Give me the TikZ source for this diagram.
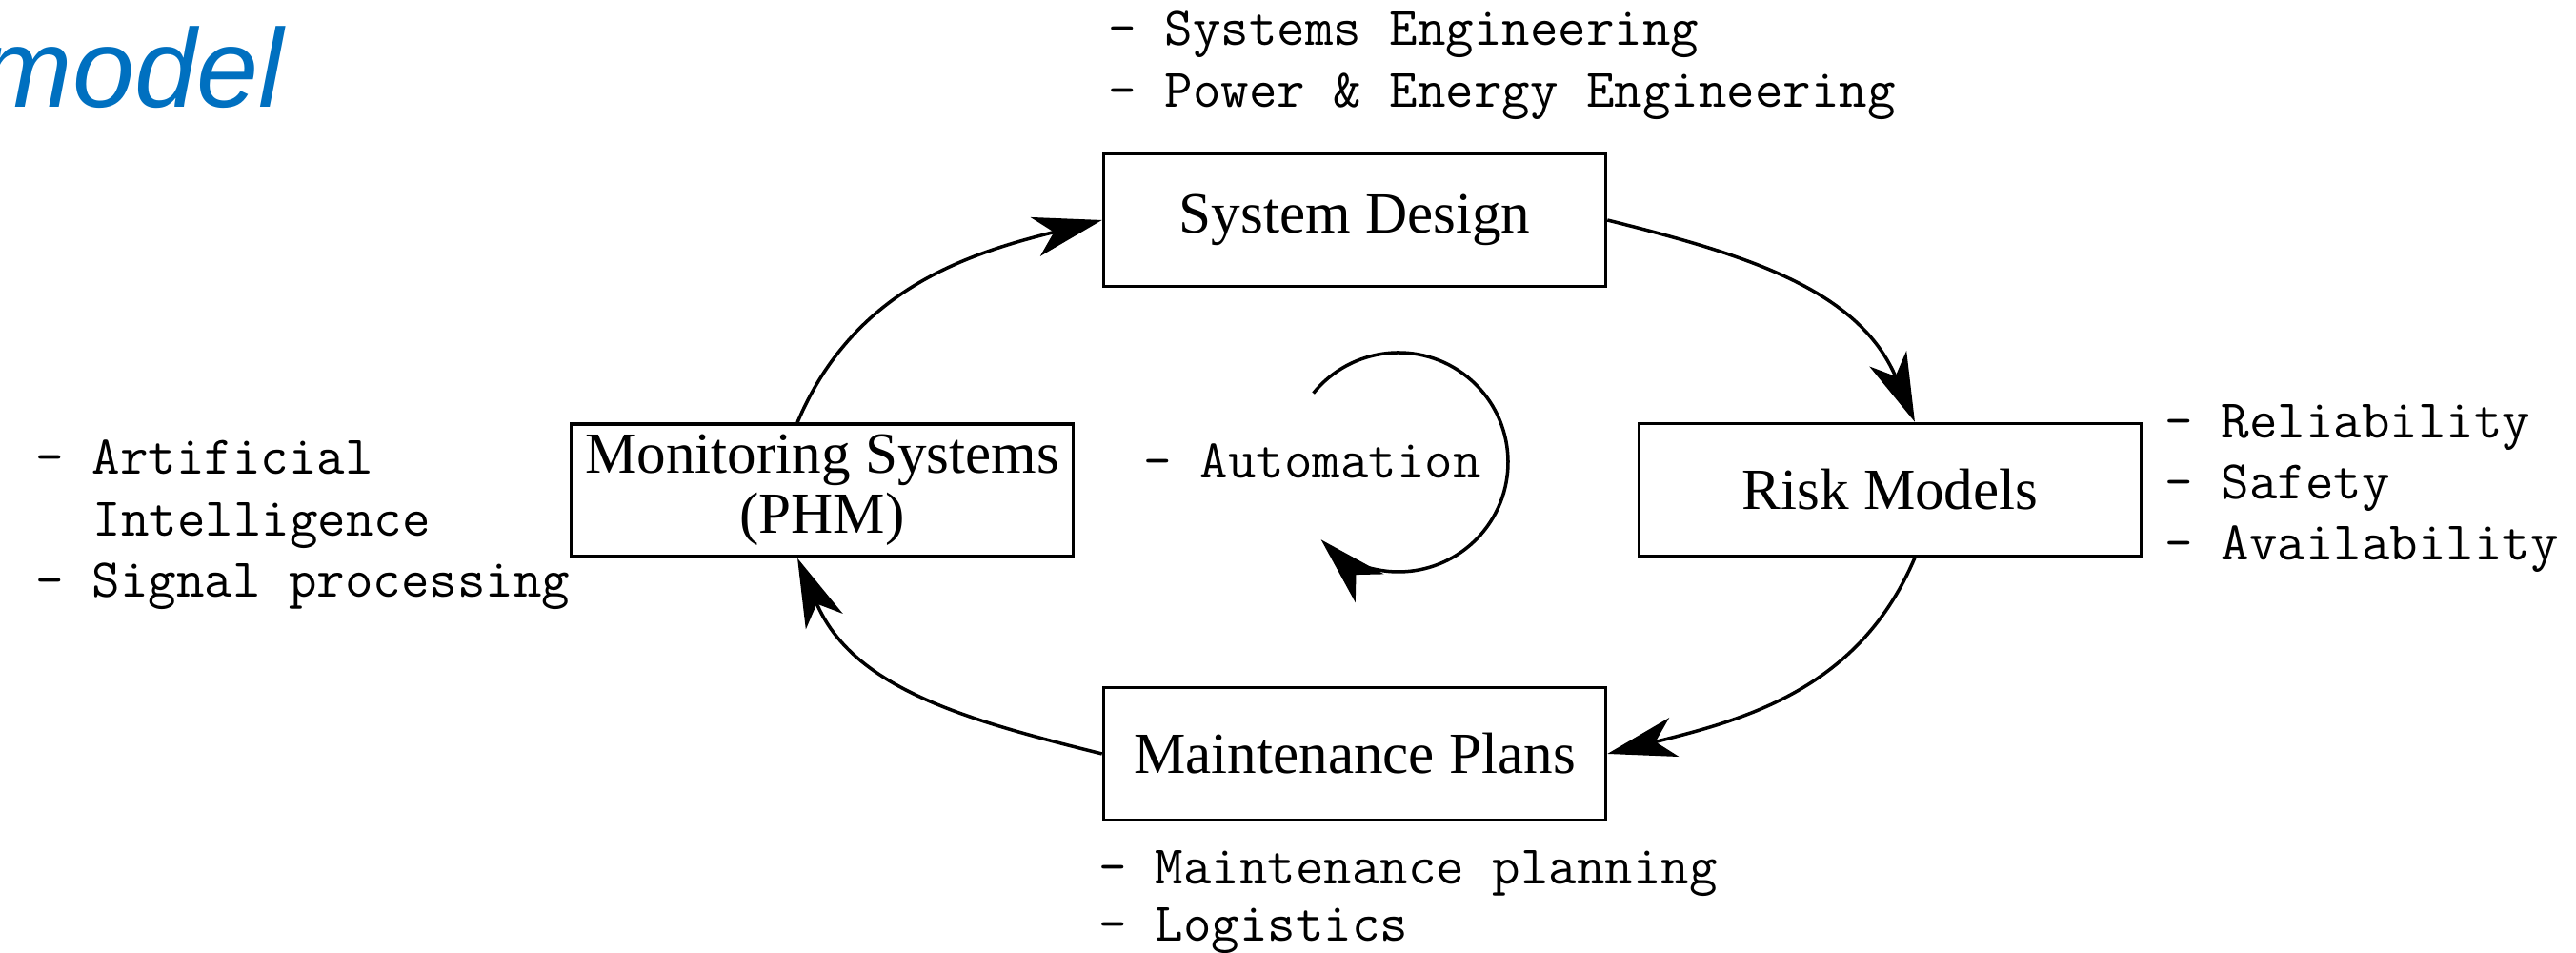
\documentclass[tikz,border=0pt]{standalone}
\usepackage{fontspec}
\setmainfont{Liberation Serif}
\newfontfamily\headfont{Liberation Sans}
\usetikzlibrary{arrows.meta}
\definecolor{headblue}{HTML}{0070C0}
\tikzset{
  box/.style={draw,line width=1pt,minimum width=5.27cm,minimum height=1.39cm,inner sep=0pt,align=center,font=\fontsize{17.4}{18}\selectfont},
  conn/.style={line width=1pt,-{Stealth[length=0.72cm,width=0.42cm,inset=0.2cm]}},
  lst/.style={anchor=base west,inner sep=0pt,font=\ttfamily\fontsize{16.3}{18}\selectfont},
}

\begin{document}
\begin{tikzpicture}
\useasboundingbox (0,0) rectangle (27.04,10);
\node[anchor=base west,inner sep=0pt,text=headblue,font=\headfont\itshape\fontsize{33.3}{40}\selectfont] (head) at (-0.22,8.87) {model};

\node[box] (sd) at (14.22,7.69) {System Design};
\node[box] (risk) at (19.84,4.86) {Risk Models};
\node[box] (maint) at (14.22,2.09) {Maintenance Plans};
\node[box] (mon) at (8.63,4.855) {Monitoring Systems\\(PHM)};

\draw[conn] (sd.east) to[out=-14,in=113] (risk.70);
\draw[conn] (risk.-70) to[out=-113,in=14] (maint.east);
\draw[conn] (maint.west) to[out=166,in=-67] (mon.-110);
\draw[conn] (mon.110) to[out=67,in=-166] (sd.west);

\node[lst] (sd1) at (11.63,9.52) {- Systems Engineering};
\node[lst] (sd2) at (11.63,8.87) {- Power \& Energy Engineering};
\node[lst] (risk1) at (22.72,5.40) {- Reliability};
\node[lst] (risk2) at (22.72,4.76) {- Safety};
\node[lst] (risk3) at (22.72,4.12) {- Availability};
\node[lst] (maint1) at (11.53,0.72) {- Maintenance planning};
\node[lst] (maint2) at (11.53,0.12) {- Logistics};
\node[lst] (mon1) at (0.37,5.02) {- Artificial};
\node[lst] (mon2) at (0.97,4.37) {Intelligence};
\node[lst] (mon3) at (0.37,3.73) {- Signal processing};
\node[lst] (auto) at (12.00,4.98) {- Automation};

\coordinate (loop) at (14.68,5.15);
\draw[conn] ([shift={(141:1.15)}]loop) arc[start angle=141,end angle=-135,radius=1.15];
\end{tikzpicture}
\end{document}
